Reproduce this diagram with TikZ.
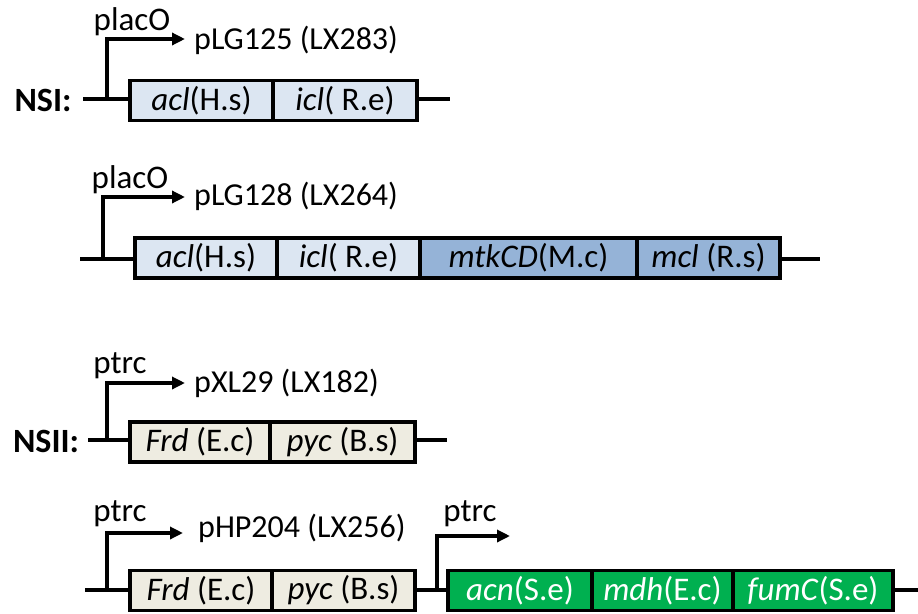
\documentclass[tikz,border=0pt]{standalone}
\usepackage{fontspec}
\setmainfont{Carlito}
\usetikzlibrary{arrows.meta}
\definecolor{lightblue}{HTML}{DCE6F2}
\definecolor{midblue}{HTML}{95B3D7}
\definecolor{beige}{HTML}{EEECE1}
\definecolor{gengreen}{HTML}{00B050}
\tikzset{
  backbone/.style={line width=3.6pt},
  genebox/.style={draw=black, line width=3.4pt, inner sep=0pt, font=\fontsize{33}{37}\selectfont},
  promoter/.style={line width=3.4pt, -{Triangle[length=13pt,width=12pt]}},
  promlabel/.style={font=\fontsize{33}{36}\selectfont, inner sep=0pt},
  plasmid/.style={font=\fontsize{32}{35}\selectfont, anchor=west, inner sep=0pt},
  nslabel/.style={font=\fontsize{34}{37}\selectfont\bfseries, inner sep=0pt}
}
\begin{document}
\begin{tikzpicture}[x=1pt,y=-1pt]
\useasboundingbox (0,0) rectangle (918,613);
% ---------- Row 1 ----------
\node[nslabel] (ns1) at (43,100) {NSI:};
\coordinate (r1s) at (83,99);
\coordinate (r1e) at (450,99);
\draw[backbone] (r1s) -- (r1e);
\node[genebox, fill=lightblue, minimum width=143pt, minimum height=40pt] (a1) at (201.5,100.5) {\textit{acl}(H.s)};
\node[genebox, fill=lightblue, minimum width=144pt, minimum height=40pt] (b1) at (345,100.5) {\textit{icl}( R.e)};
\coordinate (p1) at (107,99);
\coordinate (p1t) at (185,39);
\draw[promoter] (p1) |- (p1t);
\node[promlabel] (pl1) at (132,22) {placO};
\node[plasmid] (pn1) at (194,40) {pLG125 (LX283)};
% ---------- Row 2 ----------
\coordinate (r2s) at (80,259);
\coordinate (r2e) at (820,259);
\draw[backbone] (r2s) -- (r2e);
\node[genebox, fill=lightblue, minimum width=142pt, minimum height=40pt] (a2) at (206,258) {\textit{acl}(H.s)};
\node[genebox, fill=lightblue, minimum width=143pt, minimum height=40pt] (b2) at (348.5,258) {\textit{icl}( R.e)};
\node[genebox, fill=midblue, minimum width=217pt, minimum height=40pt] (c2) at (528.5,258) {\textit{mtkCD}(M.c)};
\node[genebox, fill=midblue, minimum width=143pt, minimum height=40pt] (d2) at (708.5,258) {\textit{mcl} (R.s)};
\coordinate (p2) at (103,259);
\coordinate (p2t) at (185,197);
\draw[promoter] (p2) |- (p2t);
\node[promlabel] (pl2) at (130,180) {placO};
\node[plasmid] (pn2) at (194,196) {pLG128 (LX264)};
% ---------- Row 3 ----------
\node[nslabel] (ns2) at (46,441) {NSII:};
\coordinate (r3s) at (88,440);
\coordinate (r3e) at (447,440);
\draw[backbone] (r3s) -- (r3e);
\node[genebox, fill=beige, minimum width=140pt, minimum height=40pt] (a3) at (200,442) {\textit{Frd} (E.c)};
\node[genebox, fill=beige, minimum width=145pt, minimum height=40pt] (b3) at (342.5,442) {\textit{pyc} (B.s)};
\coordinate (p3) at (107,440);
\coordinate (p3t) at (185,383);
\draw[promoter] (p3) |- (p3t);
\node[promlabel] (pl3) at (120,366) {ptrc};
\node[plasmid] (pn3) at (194,383) {pXL29 (LX182)};
% ---------- Row 4 ----------
\coordinate (r4s) at (85,590);
\coordinate (r4e) at (918,590);
\draw[backbone] (r4s) -- (r4e);
\node[genebox, fill=beige, minimum width=142pt, minimum height=40pt] (a4) at (201,590.5) {\textit{Frd} (E.c)};
\node[genebox, fill=beige, minimum width=143pt, minimum height=40pt] (b4) at (343.5,590.5) {\textit{pyc} (B.s)};
\node[genebox, fill=gengreen, text=white, minimum width=144pt, minimum height=40pt] (c4) at (520,590.5) {\textit{acn}(S.e)};
\node[genebox, fill=gengreen, text=white, minimum width=141pt, minimum height=40pt] (d4) at (662.5,590.5) {\textit{mdh}(E.c)};
\node[genebox, fill=gengreen, text=white, minimum width=160pt, minimum height=40pt] (e4) at (813,590.5) {\textit{fumC}(S.e)};
\coordinate (p4) at (107,590);
\coordinate (p4t) at (183,533);
\draw[promoter] (p4) |- (p4t);
\node[promlabel] (pl4) at (120,514) {ptrc};
\node[plasmid] (pn4) at (198,528) {pHP204 (LX256)};
\coordinate (p5) at (437,590);
\coordinate (p5t) at (510,536);
\draw[promoter] (p5) |- (p5t);
\node[promlabel] (pl5) at (470,514) {ptrc};
\end{tikzpicture}
\end{document}
